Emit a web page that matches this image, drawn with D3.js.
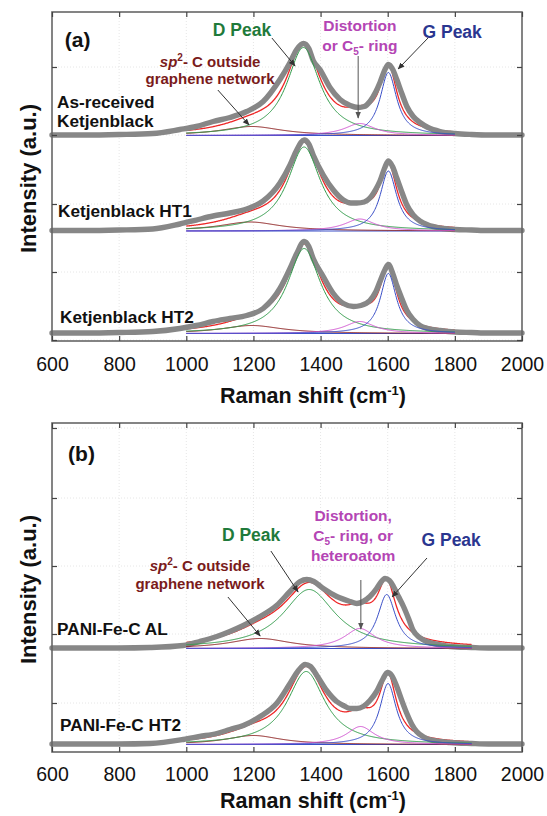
<!DOCTYPE html>
<html><head><meta charset="utf-8">
<script src="https://cdn.jsdelivr.net/npm/d3@7"></script>
<style>
body{margin:0;background:#fff}
svg{display:block}
text{font-family:Arial,"Liberation Sans",Helvetica,sans-serif}
</style>
</head><body>
<svg id="chart" width="547" height="816"></svg>
<script>
// ---------------- DATA ----------------
const shiftTicks = [600, 800, 1000, 1200, 1400, 1600, 1800, 2000];
const yTicksA = [1, 69, 137, 206, 274];
const yTicksB = [49, 118, 186, 254, 324];

// measured spectra: [Raman shift (cm-1), intensity above own baseline (a.u.)]
const asReceivedData = [[600,0.5],[700,0.5],[800,1],[900,2],[981,6],[1030,9],[1080,14],[1130,18],[1180,24],[1229,34],[1279,56],[1309,73],[1329,86],[1349,92],[1365,87],[1378,75],[1398,66],[1428,48],[1458,36],[1488,30],[1512,28],[1530,29],[1547,34],[1565,44],[1577,53],[1592,66],[1602,71],[1615,66],[1627,56],[1642,42],[1657,29],[1676,19],[1696,13],[1720,8],[1756,4],[1800,2],[1850,1],[1900,0.5],[2000,0.5]];
const ht1Data = [[600,0.5],[700,0.5],[800,1],[900,2],[981,7],[1030,11],[1080,15],[1130,18],[1180,22],[1229,30],[1279,48],[1309,66],[1329,81],[1351,91],[1365,87],[1378,76],[1408,56],[1438,41],[1468,31],[1490,28],[1508,28],[1530,29],[1547,33],[1565,42],[1577,50],[1592,64],[1602,70],[1615,64],[1627,53],[1642,39],[1657,26],[1676,16],[1696,10],[1720,6],[1756,3],[1800,1.5],[1850,1],[1900,0.5],[2000,0.5]];
const ht2Data = [[600,0.5],[700,0.5],[800,1],[900,2],[981,5],[1030,8],[1080,12],[1130,15],[1180,18],[1229,25],[1279,45],[1309,65],[1329,80],[1351,92],[1365,87],[1378,75],[1408,57],[1438,40],[1468,30],[1498,27],[1520,28],[1547,33],[1565,42],[1577,52],[1592,64],[1602,69],[1615,60],[1627,48],[1642,35],[1657,23],[1676,14],[1696,8],[1720,5],[1756,3],[1800,1.5],[1850,1],[1900,0.5],[2000,0.5]];
const paniAlData = [[600,0.5],[700,0.5],[800,0.5],[892,1],[991,3],[1040,7],[1091,12],[1130,17],[1170,23],[1220,32],[1269,43],[1309,57],[1339,67],[1359,69],[1380,67],[1408,60],[1448,52],[1488,47],[1508,45],[1527,47],[1547,52],[1567,60],[1577,65],[1592,70],[1605,68],[1617,62],[1632,52],[1647,42],[1662,30],[1676,18],[1695,11],[1716,7],[1750,4],[1786,2],[1850,1],[1900,0.5],[2000,0.5]];
const paniHt2Data = [[600,0.5],[700,0.5],[800,0.5],[892,1],[991,5],[1040,8],[1091,11],[1130,15],[1170,19],[1220,28],[1269,41],[1309,61],[1334,74],[1354,80],[1370,78],[1389,69],[1418,54],[1448,43],[1468,39],[1488,36],[1508,36],[1527,38],[1547,44],[1567,53],[1585,65],[1599,72],[1612,69],[1627,58],[1642,44],[1657,31],[1672,20],[1686,13],[1710,7],[1736,4],[1786,2],[1850,1],[1900,0.5],[2000,0.5]];

// fitted Lorentzian components: [centre (cm-1), height (a.u.), half width (cm-1)]
// order: sp2-C outside network, D peak, distortion / C5 ring, G peak
const componentNames = ["sp2", "D", "Distortion", "G"];
const asReceivedPeaks = [[1195, 9, 110], [1349, 88, 60], [1517, 12, 55], [1602, 63, 30]];
const ht1Peaks        = [[1190, 9, 110], [1351, 84, 60], [1517, 12, 55], [1602, 60, 30]];
const ht2Peaks        = [[1195, 8, 110], [1351, 85, 60], [1517, 12, 55], [1602, 60, 29]];
const paniAlPeaks     = [[1220, 10, 110], [1366, 59, 95], [1517, 20, 56], [1597, 54, 33]];
const paniHt2Peaks    = [[1200, 9, 100], [1357, 73, 68], [1519, 18, 50], [1601, 61, 30]];

// vertical offsets of each spectrum (a.u.)
const offsetsA = [205.5, 110, 7.5];
const offsetsB = [103.5, 7.5];
const fitRangeA = [1000, 1800];
const fitRangeB = [1000, 1850];

// ---------------- STYLE ----------------
const compColors = ["#8b1c1c", "#2e9a48", "#d257d2", "#3a4fc8"];
const envColor = "#ee2626";
const dataColor = "#878787";

const svg = d3.select("#chart");
const defs = svg.append("defs");
defs.append("marker").attr("id","arr").attr("viewBox","0 0 10 10").attr("refX",9).attr("refY",5)
  .attr("markerWidth",7).attr("markerHeight",7).attr("orient","auto-start-reverse")
  .append("path").attr("d","M0,1 L10,5 L0,9 z").attr("fill","#333");
defs.append("marker").attr("id","arrG").attr("viewBox","0 0 10 10").attr("refX",9).attr("refY",5)
  .attr("markerWidth",7).attr("markerHeight",7).attr("orient","auto-start-reverse")
  .append("path").attr("d","M0,1 L10,5 L0,9 z").attr("fill","#555");

const lor = (x, p) => p[1] / (1 + ((x - p[0]) / p[2]) ** 2);

function panel(cfg) {
  const x = d3.scaleLinear().domain([600, 2000]).range([52, 522]);
  const y = d3.scaleLinear().domain([0, 329]).range([cfg.bottom, cfg.top]);
  const g = svg.append("g");

  // faint grid
  g.append("g").selectAll("line").data(shiftTicks.slice(1, -1)).join("line")
    .attr("x1", d => x(d)).attr("x2", d => x(d)).attr("y1", cfg.top).attr("y2", cfg.bottom)
    .attr("stroke", "#e6e6e6").attr("stroke-dasharray", "1,2");
  g.append("g").selectAll("line").data(cfg.yTicks).join("line")
    .attr("x1", 52).attr("x2", 522).attr("y1", d => y(d)).attr("y2", d => y(d))
    .attr("stroke", "#e6e6e6").attr("stroke-dasharray", "1,2");

  // spectra
  cfg.spectra.forEach((s, i) => {
    const off = cfg.offsets[i];
    const xs = d3.range(cfg.fitRange[0], cfg.fitRange[1] + 0.1, 2);
    const line = d3.line().x(d => x(d[0])).y(d => y(d[1] + off));
    const env = xs.map(v => [v, d3.sum(s.peaks, p => lor(v, p))]);
    g.append("path").attr("d", line([[cfg.fitRange[0], 0], [cfg.fitRange[1], 0]]))
      .attr("fill", "none").attr("stroke", compColors[3]).attr("stroke-width", 1);
    g.append("path").attr("d", line(env)).attr("fill", "none").attr("stroke", envColor).attr("stroke-width", 1.3);
    g.append("path").attr("d", d3.line().x(d => x(d[0])).y(d => y(d[1] + off)).curve(d3.curveMonotoneX)(s.data))
      .attr("fill", "none").attr("stroke", dataColor).attr("stroke-width", 5.4)
      .attr("stroke-linejoin", "round").attr("stroke-linecap", "round");
    s.peaks.forEach((p, k) => {
      g.append("path").attr("d", line(xs.map(v => [v, lor(v, p)])))
        .attr("fill", "none").attr("stroke", compColors[k]).attr("stroke-width", 1);
    });
  });

  // frame
  g.append("rect").attr("x", 52).attr("y", cfg.top).attr("width", 470).attr("height", cfg.bottom - cfg.top)
    .attr("fill", "none").attr("stroke", "#666").attr("stroke-width", 1.6);

  const styleAxis = a => { a.select(".domain").remove(); a.selectAll(".tick line").attr("stroke", "#444").attr("stroke-width", 1.2); };
  g.append("g").attr("transform", `translate(0,${cfg.bottom})`)
    .call(d3.axisBottom(x).tickValues(shiftTicks).tickFormat(d3.format("d")).tickSizeInner(-5).tickSizeOuter(0).tickPadding(cfg.tickPad))
    .call(styleAxis)
    .call(a => a.selectAll(".tick text").attr("font-size", 19.5).attr("fill", "#111")
      .attr("font-family", "Arial, 'Liberation Sans', sans-serif"));
  g.append("g").attr("transform", `translate(0,${cfg.top})`)
    .call(d3.axisTop(x).tickValues(shiftTicks).tickFormat("").tickSizeInner(-5).tickSizeOuter(0)).call(styleAxis);
  g.append("g").attr("transform", `translate(52,0)`)
    .call(d3.axisLeft(y).tickValues(cfg.yTicks).tickFormat("").tickSizeInner(-5).tickSizeOuter(0)).call(styleAxis);
  g.append("g").attr("transform", `translate(522,0)`)
    .call(d3.axisRight(y).tickValues(cfg.yTicks).tickFormat("").tickSizeInner(-5).tickSizeOuter(0)).call(styleAxis);

  // axis titles
  g.append("text").attr("transform", `translate(36,${(cfg.top + cfg.bottom) / 2 + 2}) rotate(-90)`)
    .attr("text-anchor", "middle").attr("font-size", 22).attr("font-weight", "bold").attr("fill", "#111")
    .text("Intensity (a.u.)");
  const xt = g.append("text").attr("x", 313).attr("y", cfg.xTitleY).attr("text-anchor", "middle")
    .attr("font-size", 21.5).attr("font-weight", "bold").attr("fill", "#111");
  xt.append("tspan").text("Raman shift (cm");
  xt.append("tspan").attr("dy", -8).attr("font-size", 13).text("-1");
  xt.append("tspan").attr("dy", 8).text(")");

  // panel letter
  g.append("text").attr("x", x(cfg.letter[1])).attr("y", y(cfg.letter[2])).attr("font-size", 21)
    .attr("font-weight", "bold").attr("fill", "#111").text(cfg.letter[0]);

  // sample labels
  cfg.labels.forEach(l => {
    g.append("text").attr("x", x(l[1])).attr("y", y(l[2])).attr("font-size", 17.2)
      .attr("font-weight", "bold").attr("fill", "#111").text(l[0]);
  });

  // annotations
  cfg.notes.forEach(n => {
    const t = g.append("text").attr("x", x(n.x)).attr("y", y(n.y)).attr("text-anchor", "middle")
      .attr("font-size", n.size).attr("font-weight", "bold").attr("fill", n.color);
    n.parts.forEach(p => {
      const ts = t.append("tspan").text(p.t);
      if (p.it) ts.attr("font-style", "italic");
      if (p.dy) ts.attr("dy", p.dy);
      if (p.fs) ts.attr("font-size", p.fs);
    });
  });
  cfg.arrows.forEach(a => {
    g.append("line").attr("x1", x(a[0])).attr("y1", y(a[1])).attr("x2", x(a[2])).attr("y2", y(a[3]))
      .attr("stroke", a[4] || "#333").attr("stroke-width", 1)
      .attr("marker-end", a[4] ? "url(#arrG)" : "url(#arr)");
  });
}

const sp2Parts = [{t:"sp", it:true}, {t:"2", dy:-6, fs:10}, {t:"- C outside", dy:6}];

panel({
  top: 12, bottom: 341, yTicks: yTicksA, offsets: offsetsA, fitRange: fitRangeA, xTitleY: 403, tickPad: 16,
  spectra: [{data: asReceivedData, peaks: asReceivedPeaks}, {data: ht1Data, peaks: ht1Peaks}, {data: ht2Data, peaks: ht2Peaks}],
  letter: ["(a)", 638, 294],
  labels: [["As-received", 615, 233.5], ["Ketjenblack", 615, 214], ["Ketjenblack HT1", 618, 124], ["Ketjenblack HT2", 624, 18]],
  notes: [
    {x: 1166, y: 305, size: 17.5, color: "#1f7a3b", parts: [{t: "D Peak"}]},
    {x: 1071, y: 274.5, size: 15, color: "#7a1b1b", parts: sp2Parts},
    {x: 1071, y: 257.5, size: 15, color: "#7a1b1b", parts: [{t: "graphene network"}]},
    {x: 1517, y: 310, size: 15.5, color: "#b445b4", parts: [{t: "Distortion"}]},
    {x: 1517, y: 290, size: 15.5, color: "#b445b4", parts: [{t: "or C"}, {t: "5", dy: 4, fs: 10}, {t: "- ring", dy: -4}]},
    {x: 1792, y: 303, size: 17.5, color: "#2a3690", parts: [{t: "G Peak"}]}
  ],
  arrows: [[1255, 303, 1324, 275], [1094, 251, 1187, 216], [1512, 285, 1512, 223, "#555"], [1720, 303, 1631, 272]]
});

panel({
  top: 423, bottom: 752, yTicks: yTicksB, offsets: offsetsB, fitRange: fitRangeB, xTitleY: 808, tickPad: 15.5,
  spectra: [{data: paniAlData, peaks: paniAlPeaks}, {data: paniHt2Data, peaks: paniHt2Peaks}],
  letter: ["(b)", 648, 291],
  labels: [["PANI-Fe-C AL", 615, 117], ["PANI-Fe-C HT2", 624, 21]],
  notes: [
    {x: 1193, y: 211, size: 17.5, color: "#1f7a3b", parts: [{t: "D Peak"}]},
    {x: 1041, y: 181.5, size: 15, color: "#7a1b1b", parts: sp2Parts},
    {x: 1041, y: 163.5, size: 15, color: "#7a1b1b", parts: [{t: "graphene network"}]},
    {x: 1497, y: 231, size: 15.5, color: "#b445b4", parts: [{t: "Distortion,"}]},
    {x: 1497, y: 211, size: 15.5, color: "#b445b4", parts: [{t: "C"}, {t: "5", dy: 4, fs: 10}, {t: "- ring, or", dy: -4}]},
    {x: 1497, y: 191, size: 15.5, color: "#b445b4", parts: [{t: "heteroatom"}]},
    {x: 1789, y: 206, size: 17.5, color: "#2a3690", parts: [{t: "G Peak"}]}
  ],
  arrows: [[1252, 201, 1333, 160], [1124, 155, 1220, 116], [1520, 172, 1520, 123, "#555"], [1717, 194, 1613, 155]]
});
</script>
</body></html>
